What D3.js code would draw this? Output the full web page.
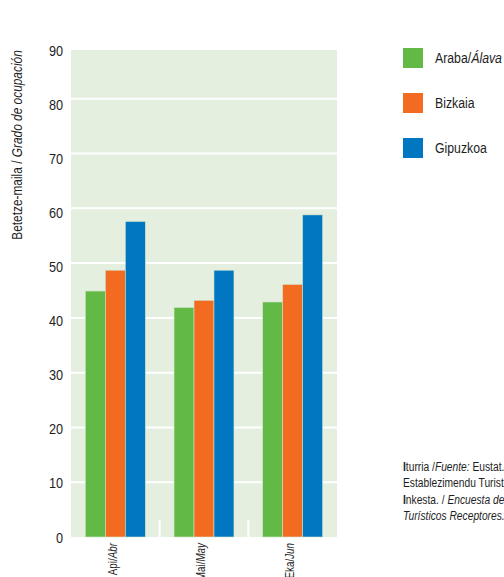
<!DOCTYPE html>
<html>
<head>
<meta charset="utf-8">
<script src="https://d3js.org/d3.v7.min.js"></script>
<style>
body { margin: 0; background: #fff; }
svg { display: block; font-family: "Liberation Sans", Arial, sans-serif; }
</style>
</head>
<body>
<div id="chart"></div>
<script>
  // data
  var months = ["Api/Abr", "Mai/May", "Eka/Jun"];
  var series = ["Araba/Álava", "Bizkaia", "Gipuzkoa"];
  var araba = [44.9, 41.9, 42.9];
  var bizkaia = [48.7, 43.2, 46.1];
  var gipuzkoa = [57.6, 48.7, 58.8];
  var yTicks = [0, 10, 20, 30, 40, 50, 60, 70, 80, 90];
  var colors = ["#62b946", "#f26b21", "#0077c0"];

  var values = [araba, bizkaia, gipuzkoa];
  var SX = 0.82; // squeeze to look like the condensed face of the original

  var width = 504, height = 577;
  var svg = d3.select("#chart").append("svg")
    .attr("width", width)
    .attr("height", height);

  var x0 = d3.scaleBand().domain(months).range([71, 337]);
  var x1 = d3.scaleBand().domain(series).range([0, x0.bandwidth()]).paddingOuter(0.72);
  var y = d3.scaleLinear().domain([0, 90]).range([537, 44]);
  var yLab = d3.scaleLinear().domain([0, 90]).range([537, 50]);

  // background
  svg.append("rect")
    .attr("x", 71).attr("y", yLab(90))
    .attr("width", 266).attr("height", y(0) - yLab(90))
    .attr("fill", "#e4efdf");

  // gridlines
  svg.selectAll(".grid")
    .data(yTicks.filter(function(d) { return d > 0 && d < 90; }))
    .enter().append("line")
    .attr("x1", 71).attr("x2", 337)
    .attr("y1", function(d) { return y(d); })
    .attr("y2", function(d) { return y(d); })
    .attr("stroke", "#fff")
    .attr("stroke-width", 2);

  // small separators between months
  svg.selectAll(".sep")
    .data(months.slice(1))
    .enter().append("line")
    .attr("x1", function(d) { return x0(d); })
    .attr("x2", function(d) { return x0(d); })
    .attr("y1", 520).attr("y2", y(0) + 2)
    .attr("stroke", "#fff")
    .attr("stroke-width", 2);

  // bars
  var g = svg.selectAll(".month")
    .data(months)
    .enter().append("g")
    .attr("transform", function(d) { return "translate(" + x0(d) + ",0)"; });

  g.selectAll("rect")
    .data(function(d, i) {
      return series.map(function(s, j) { return {s: s, v: values[j][i], c: colors[j]}; });
    })
    .enter().append("rect")
    .attr("x", function(d) { return x1(d.s); })
    .attr("width", x1.bandwidth())
    .attr("y", function(d) { return y(d.v); })
    .attr("height", function(d) { return y(0) - y(d.v); })
    .attr("fill", function(d) { return d.c; })
    .attr("stroke", "#cfe3c8")
    .attr("stroke-width", 0.6);

  // y tick labels
  svg.selectAll(".ylab")
    .data(yTicks)
    .enter().append("text")
    .attr("transform", function(d) { return "translate(63," + yLab(d) + ") scale(" + SX + ",1)"; })
    .attr("dy", "0.36em")
    .attr("text-anchor", "end")
    .attr("font-size", 15.5)
    .attr("fill", "#1e1e1e")
    .text(function(d) { return d; });

  // y title
  var yt = svg.append("text")
    .attr("transform", "translate(22,145) rotate(-90) scale(" + SX + ",1)")
    .attr("text-anchor", "middle")
    .attr("font-size", 14.5)
    .attr("fill", "#1e1e1e");
  yt.append("tspan").text("Betetze-maila / ");
  yt.append("tspan").attr("font-style", "italic").text("Grado de ocupación");

  // x labels
  svg.selectAll(".xlab")
    .data(months)
    .enter().append("text")
    .attr("transform", function(d) {
      return "translate(" + (x0(d) + x0.bandwidth() / 2 - 3) + ",543) rotate(-90) scale(" + SX + ",1)";
    })
    .attr("text-anchor", "end")
    .attr("dy", "0.35em")
    .attr("font-size", 12)
    .attr("fill", "#1e1e1e")
    .each(function(d) {
      var parts = d.split("/");
      d3.select(this).append("tspan").text(parts[0] + "/");
      d3.select(this).append("tspan").attr("font-style", "italic").text(parts[1]);
    });

  // legend
  var leg = svg.selectAll(".leg")
    .data(series)
    .enter().append("g")
    .attr("transform", function(d, i) { return "translate(403," + (48 + i * 45) + ")"; });
  leg.append("rect")
    .attr("width", 20).attr("height", 20)
    .attr("fill", function(d, i) { return colors[i]; });
  leg.append("text")
    .attr("transform", "translate(32,10) scale(" + SX + ",1)")
    .attr("dy", "0.36em")
    .attr("font-size", 15)
    .attr("fill", "#1e1e1e")
    .each(function(d) {
      var parts = d.split("/");
      d3.select(this).append("tspan").text(parts[0] + (parts.length > 1 ? "/" : ""));
      if (parts.length > 1) d3.select(this).append("tspan").attr("font-style", "italic").text(parts[1]);
    });

  // source note
  var src = svg.append("text")
    .attr("transform", "translate(403,471) scale(" + SX + ",1)")
    .attr("font-size", 12.5)
    .attr("fill", "#1e1e1e");
  var l1 = src.append("tspan").attr("x", 0);
  l1.append("tspan").attr("font-weight", "bold").text("I");
  l1.append("tspan").text("turria /");
  l1.append("tspan").attr("font-style", "italic").text("Fuente:");
  l1.append("tspan").text(" Eustat.");
  src.append("tspan").attr("x", 0).attr("dy", 16.5).text("Establezimendu Turistiko Hartzaileen");
  var l3 = src.append("tspan").attr("x", 0).attr("dy", 16.5);
  l3.append("tspan").attr("font-weight", "bold").text("I");
  l3.append("tspan").text("nkesta. / ");
  l3.append("tspan").attr("font-style", "italic").text("Encuesta de Establecimientos");
  src.append("tspan").attr("x", 0).attr("dy", 16.5).attr("font-style", "italic").text("Turísticos Receptores.");
</script>
</body>
</html>
